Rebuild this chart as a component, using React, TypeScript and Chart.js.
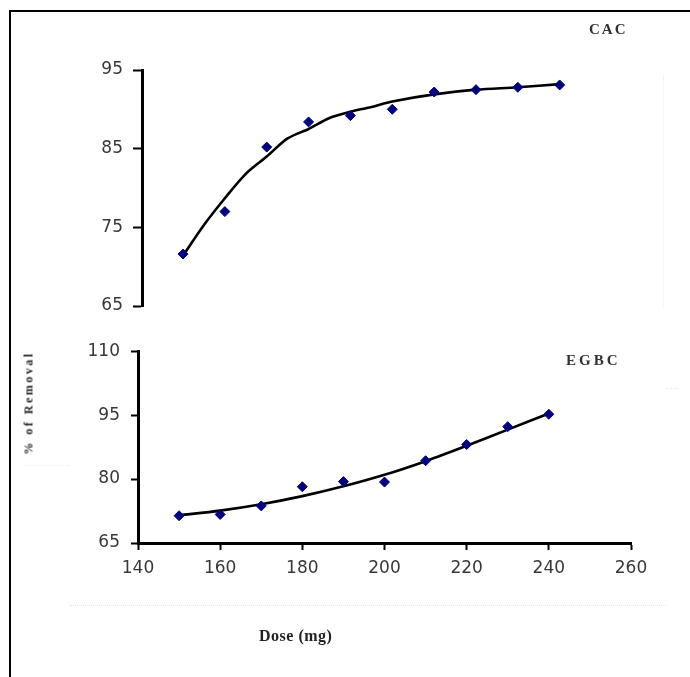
import React, { useEffect, useRef } from "react";
import { Chart, registerables } from "chart.js";

Chart.register(...registerables);

// ---- data ----
const doses = [150, 160, 170, 180, 190, 200, 210, 220, 230, 240];
const cacRemoval = [71.6, 77.0, 85.2, 88.4, 89.2, 90.0, 92.2, 92.5, 92.8, 93.1];
const egbcRemoval = [71.4, 71.7, 73.7, 78.2, 79.4, 79.3, 84.3, 88.1, 92.3, 95.2];

const cacTrendDoses = [150, 155, 160, 165, 170, 175, 180, 185, 190, 195, 200, 210, 220, 230, 240];
const cacTrend = [71.4, 75.3, 78.7, 81.8, 84.0, 86.3, 87.5, 88.9, 89.7, 90.3, 91.0, 91.9, 92.5, 92.8, 93.2];

const egbcTrendDoses = [150, 160, 170, 180, 190, 200, 210, 220, 230, 240];
const egbcTrend = [71.5, 72.6, 74.1, 76.0, 78.3, 81.0, 84.2, 87.8, 91.6, 95.4];

const xTicks = [140, 160, 180, 200, 220, 240, 260];
const cacYTicks = [65, 75, 85, 95];
const egbcYTicks = [65, 80, 95, 110];

const pts = (xs: number[], ys: number[]) => xs.map((x, i) => ({ x, y: ys[i] }));

const tickFont = { family: "'DejaVu Sans', Arial, sans-serif", size: 17 };
const tickColor = "#383838";

function makeDatasets(xs: number[], ys: number[], tx: number[], ty: number[]) {
  return [
    {
      label: "data",
      data: pts(xs, ys),
      showLine: false,
      pointStyle: "rectRot",
      pointRadius: 5,
      pointBackgroundColor: "#000080",
      pointBorderColor: "#000080",
      pointBorderWidth: 1,
    },
    {
      label: "trend",
      data: pts(tx, ty),
      showLine: true,
      pointRadius: 0,
      borderColor: "#000000",
      borderWidth: 2.6,
      tension: 0.3,
    },
  ];
}

function TopChart() {
  const ref = useRef<HTMLCanvasElement | null>(null);
  useEffect(() => {
    if (!ref.current) return;
    const chart = new Chart(ref.current, {
      type: "scatter",
      data: { datasets: makeDatasets(doses, cacRemoval, cacTrendDoses, cacTrend) as any },
      options: {
        animation: false,
        responsive: false,
        layout: { padding: { top: 70, bottom: 24, left: 0, right: 60 } },
        plugins: { legend: { display: false }, tooltip: { enabled: false } },
        scales: {
          x: { type: "linear", display: false, min: 140.2, max: 256.8 },
          y: {
            type: "linear",
            min: 65,
            max: 95,
            afterBuildTicks: (s: any) => {
              s.ticks = cacYTicks.map((v) => ({ value: v }));
            },
            afterFit: (s: any) => {
              s.width = 142;
            },
            grid: {
              display: true,
              drawOnChartArea: false,
              drawTicks: true,
              tickLength: 9,
              tickWidth: 2,
              tickColor: "#000",
              color: "#000",
            },
            border: { display: true, width: 3, color: "#000" },
            ticks: { font: tickFont, color: tickColor, padding: 10 },
          },
        },
      } as any,
    });
    return () => chart.destroy();
  }, []);
  return (
    <canvas
      ref={ref}
      width={690}
      height={330}
      style={{ position: "absolute", left: 0, top: 0, width: 690, height: 330 }}
    />
  );
}

function BottomChart() {
  const ref = useRef<HTMLCanvasElement | null>(null);
  useEffect(() => {
    if (!ref.current) return;
    const chart = new Chart(ref.current, {
      type: "scatter",
      data: { datasets: makeDatasets(doses, egbcRemoval, egbcTrendDoses, egbcTrend) as any },
      options: {
        animation: false,
        responsive: false,
        layout: { padding: { top: 14, bottom: 0, left: 0, right: 59 } },
        plugins: { legend: { display: false }, tooltip: { enabled: false } },
        scales: {
          x: {
            type: "linear",
            min: 140,
            max: 260,
            afterBuildTicks: (s: any) => {
              s.ticks = xTicks.map((v) => ({ value: v }));
            },
            afterFit: (s: any) => {
              s.height = 134;
            },
            grid: {
              display: true,
              drawOnChartArea: false,
              drawTicks: true,
              tickLength: 7,
              tickWidth: 2,
              tickColor: "#000",
              color: "#000",
            },
            border: { display: true, width: 3, color: "#000" },
            ticks: { font: tickFont, color: tickColor, padding: 8, maxRotation: 0 },
          },
          y: {
            type: "linear",
            min: 65,
            max: 110,
            afterBuildTicks: (s: any) => {
              s.ticks = egbcYTicks.map((v) => ({ value: v }));
            },
            afterFit: (s: any) => {
              s.width = 138;
            },
            grid: {
              display: true,
              drawOnChartArea: false,
              drawTicks: true,
              tickLength: 7,
              tickWidth: 2,
              tickColor: "#000",
              color: "#000",
            },
            border: { display: true, width: 3, color: "#000" },
            ticks: { font: tickFont, color: tickColor, padding: 11 },
          },
        },
      } as any,
    });
    return () => chart.destroy();
  }, []);
  return (
    <canvas
      ref={ref}
      width={690}
      height={347}
      style={{ position: "absolute", left: 0, top: 330, width: 690, height: 347 }}
    />
  );
}

const serif = "'Liberation Serif', 'Times New Roman', serif";

export default function App() {
  return (
    <div
      style={{
        position: "fixed",
        left: 0,
        top: 0,
        width: 690,
        height: 677,
        background: "#fff",
        overflow: "hidden",
      }}
    >
      {/* frame */}
      <div style={{ position: "absolute", left: 9, top: 10, width: 690, height: 2, background: "#000" }} />
      <div style={{ position: "absolute", left: 9, top: 10, width: 2, height: 677, background: "#000" }} />

      {/* faint dotted artefacts */}
      <div style={{ position: "absolute", left: 70, top: 605, width: 596, height: 0, borderTop: "1px dotted #e8dde8" }} />
      <div style={{ position: "absolute", left: 663, top: 75, width: 0, height: 233, borderLeft: "1px dotted #ececec" }} />
      <div style={{ position: "absolute", left: 666, top: 388, width: 12, height: 0, borderTop: "1px dotted #e2ecf0" }} />
      <div style={{ position: "absolute", left: 25, top: 465, width: 45, height: 0, borderTop: "1px dotted #ececec" }} />

      <TopChart />
      <BottomChart />

      <div
        style={{
          position: "absolute",
          left: 589,
          top: 21,
          fontFamily: serif,
          fontWeight: "bold",
          fontSize: 15,
          letterSpacing: 2,
          color: "#333",
          whiteSpace: "nowrap",
        }}
      >
        CAC
      </div>
      <div
        style={{
          position: "absolute",
          left: 566,
          top: 352,
          fontFamily: serif,
          fontWeight: "bold",
          fontSize: 15,
          letterSpacing: 3,
          color: "#333",
          whiteSpace: "nowrap",
        }}
      >
        EGBC
      </div>
      <div
        style={{
          position: "absolute",
          left: 29,
          top: 403,
          transform: "translate(-50%, -50%) rotate(-90deg)",
          fontFamily: serif,
          fontWeight: "bold",
          fontSize: 12,
          letterSpacing: 2.5,
          color: "#222",
          whiteSpace: "nowrap",
        }}
      >
        % of Removal
      </div>
      <div
        style={{
          position: "absolute",
          left: 259,
          top: 627,
          fontFamily: serif,
          fontWeight: "bold",
          fontSize: 16,
          letterSpacing: 0.5,
          color: "#222",
          whiteSpace: "nowrap",
        }}
      >
        Dose (mg)
      </div>
    </div>
  );
}
